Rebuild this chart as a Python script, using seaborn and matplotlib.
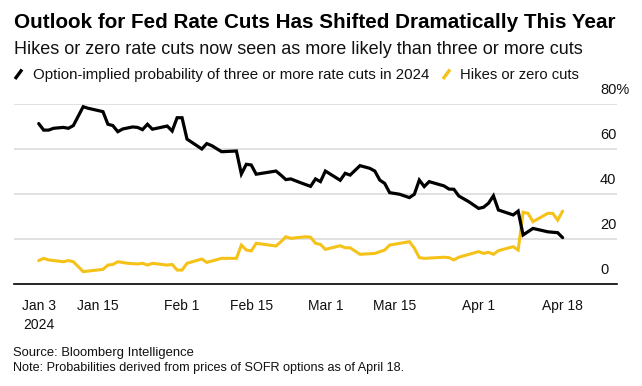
import matplotlib
matplotlib.use("Agg")
import matplotlib.pyplot as plt
import matplotlib.transforms as mtransforms
from matplotlib.lines import Line2D
import pandas as pd
import seaborn as sns

# ---------------- data ----------------
three_cut_dates = [
    "2024-01-03", "2024-01-04", "2024-01-05", "2024-01-06", "2024-01-08", "2024-01-09",
    "2024-01-10", "2024-01-12", "2024-01-13", "2024-01-16", "2024-01-17", "2024-01-18",
    "2024-01-19", "2024-01-20", "2024-01-22", "2024-01-23", "2024-01-24", "2024-01-25",
    "2024-01-26", "2024-01-29", "2024-01-30", "2024-01-31", "2024-02-01", "2024-02-02",
    "2024-02-05", "2024-02-06", "2024-02-07", "2024-02-09", "2024-02-12", "2024-02-13",
    "2024-02-14", "2024-02-15", "2024-02-16", "2024-02-20", "2024-02-21", "2024-02-22",
    "2024-02-23", "2024-02-25", "2024-02-27", "2024-02-28", "2024-02-29", "2024-03-01",
    "2024-03-04", "2024-03-05", "2024-03-06", "2024-03-08", "2024-03-10", "2024-03-11",
    "2024-03-12", "2024-03-13", "2024-03-14", "2024-03-16", "2024-03-18", "2024-03-19",
    "2024-03-20", "2024-03-21", "2024-03-22", "2024-03-25", "2024-03-26", "2024-03-27",
    "2024-03-28", "2024-03-30", "2024-04-01", "2024-04-02", "2024-04-03", "2024-04-04",
    "2024-04-05", "2024-04-08", "2024-04-09", "2024-04-10", "2024-04-12", "2024-04-15",
    "2024-04-17", "2024-04-18",
]
three_cut_values = [
    71.3, 68.4, 68.4, 69.2, 69.6, 69.2,
    70.4, 78.8, 78.1, 76.6, 71.0, 70.4,
    67.7, 68.9, 69.8, 69.6, 68.6, 71.0,
    68.8, 70.2, 68.0, 73.9, 73.9, 64.4,
    60.0, 62.4, 61.5, 58.8, 59.1, 48.9,
    53.2, 52.9, 48.8, 50.2, 48.4, 46.4,
    46.7, 45.0, 43.4, 46.7, 45.5, 50.2,
    46.1, 49.2, 48.4, 52.6, 51.4, 50.2,
    46.2, 44.7, 40.6, 39.9, 38.4, 39.9,
    46.2, 43.3, 45.5, 43.6, 42.2, 42.1,
    39.1, 36.6, 33.6, 34.1, 35.9, 39.2,
    32.9, 30.7, 32.4, 21.8, 24.7, 23.2,
    22.8, 20.6,
]

hike_dates = [
    "2024-01-03", "2024-01-04", "2024-01-05", "2024-01-08", "2024-01-09", "2024-01-10",
    "2024-01-12", "2024-01-16", "2024-01-17", "2024-01-18", "2024-01-19", "2024-01-21",
    "2024-01-23", "2024-01-24", "2024-01-25", "2024-01-26", "2024-01-29", "2024-01-30",
    "2024-01-31", "2024-02-01", "2024-02-02", "2024-02-05", "2024-02-06", "2024-02-09",
    "2024-02-12", "2024-02-13", "2024-02-14", "2024-02-15", "2024-02-16", "2024-02-20",
    "2024-02-21", "2024-02-22", "2024-02-23", "2024-02-26", "2024-02-27", "2024-02-28",
    "2024-02-29", "2024-03-01", "2024-03-04", "2024-03-05", "2024-03-06", "2024-03-08",
    "2024-03-11", "2024-03-13", "2024-03-14", "2024-03-18", "2024-03-19", "2024-03-20",
    "2024-03-21", "2024-03-25", "2024-03-26", "2024-03-27", "2024-03-28", "2024-04-01",
    "2024-04-02", "2024-04-03", "2024-04-04", "2024-04-05", "2024-04-08", "2024-04-09",
    "2024-04-10", "2024-04-11", "2024-04-12", "2024-04-15", "2024-04-16", "2024-04-17",
    "2024-04-18",
]
hike_values = [
    10.4, 11.4, 10.7, 9.9, 10.4, 9.9,
    5.5, 6.5, 8.4, 8.7, 9.9, 9.2,
    8.9, 9.2, 8.4, 9.2, 8.4, 8.7,
    6.2, 6.2, 9.2, 11.1, 9.6, 11.4,
    11.4, 17.3, 15.1, 14.7, 18.1, 16.9,
    18.8, 21.0, 20.3, 21.0, 20.8, 18.1,
    17.6, 15.4, 17.0, 16.1, 16.1, 13.2,
    13.6, 15.1, 17.3, 18.8, 15.9, 11.7,
    11.4, 11.9, 11.7, 10.7, 11.9, 14.4,
    13.6, 14.1, 13.2, 14.8, 16.6, 15.1,
    31.9, 31.4, 27.7, 31.4, 31.4, 28.4,
    32.4,
]

series_labels = ["Option-implied probability of three or more rate cuts in 2024",
                 "Hikes or zero cuts"]
tick_dates = ["2024-01-03", "2024-01-15", "2024-02-01", "2024-02-15",
              "2024-03-01", "2024-03-15", "2024-04-01", "2024-04-18"]
tick_labels = ["Jan 3\n2024", "Jan 15", "Feb 1", "Feb 15", "Mar 1", "Mar 15", "Apr 1", "Apr 18"]
y_ticks = [0, 20, 40, 60, 80]
y_tick_labels = ["0", "20", "40", "60", "80%"]

title = "Outlook for Fed Rate Cuts Has Shifted Dramatically This Year"
subtitle = "Hikes or zero rate cuts now seen as more likely than three or more cuts"
source = "Source: Bloomberg Intelligence"
note = "Note: Probabilities derived from prices of SOFR options as of April 18."

# ---------------- style ----------------
sns.set_theme(style="white")
plt.rcParams["font.family"] = ["Liberation Sans", "DejaVu Sans"]

BLACK = "#000000"
YELLOW = "#f5c219"
GRID = "#dedede"

W, H = 642, 386
fig = plt.figure(figsize=(W / 100, H / 100), dpi=100)
fig.patch.set_facecolor("white")

def fx(px):
    return px / W

def fy(py):
    return 1 - py / H

ax_left, ax_right, ax_top, ax_bot = 14, 617, 104, 284
ax = fig.add_axes([fx(ax_left), fy(ax_bot), fx(ax_right - ax_left), (ax_bot - ax_top) / H])

df1 = pd.DataFrame({"date": pd.to_datetime(three_cut_dates), "value": three_cut_values})
df2 = pd.DataFrame({"date": pd.to_datetime(hike_dates), "value": hike_values})

sns.lineplot(data=df2, x="date", y="value", ax=ax, color=YELLOW, lw=2.2,
             solid_joinstyle="miter", clip_on=False, zorder=3)
sns.lineplot(data=df1, x="date", y="value", ax=ax, color=BLACK, lw=2.3,
             solid_joinstyle="miter", clip_on=False, zorder=4)

ax.set_xlim(pd.Timestamp("2023-12-29"), pd.Timestamp("2024-04-29"))
ax.set_ylim(0, 80)
ax.set_xlabel("")
ax.set_ylabel("")

for v in y_ticks[1:]:
    ax.axhline(v, color=GRID, lw=1.3, zorder=1)

for s in ["top", "right", "left"]:
    ax.spines[s].set_visible(False)
ax.spines["bottom"].set_color(BLACK)
ax.spines["bottom"].set_linewidth(1.2)
ax.spines["bottom"].set_zorder(5)

ax.set_xticks(pd.to_datetime(tick_dates))
ax.set_xticklabels(tick_labels, fontsize=10, color="#111111", linespacing=1.45)
ax.tick_params(axis="x", direction="out", length=5, width=1, color=BLACK, pad=6)
ax.set_yticks([])

# y labels: left-aligned just above each gridline near the right edge
trans = mtransforms.blended_transform_factory(ax.transAxes, ax.transData)
for v, lab in zip(y_ticks, y_tick_labels):
    t = mtransforms.offset_copy(trans, fig=fig, x=0, y=14, units="dots")
    ax.text((600 - ax_left) / (ax_right - ax_left), v, lab, transform=t,
            ha="left", va="center", fontsize=10.5, color="#111111")

# ---------------- header texts ----------------
t_title = fig.text(fx(14), fy(28.5), title, fontsize=14, fontweight="bold",
                   color=BLACK, ha="left", va="baseline")
t_sub = fig.text(fx(14), fy(53.5), subtitle, fontsize=11, color="#111111",
                 ha="left", va="baseline")
t_leg1 = fig.text(fx(33), fy(79), series_labels[0], fontsize=10, color="#111111",
                  ha="left", va="baseline")
t_leg2 = fig.text(fx(460), fy(79), series_labels[1], fontsize=10, color="#111111",
                  ha="left", va="baseline")
t_src = fig.text(fx(13), fy(356), source, fontsize=8.5, color="#111111",
                 ha="left", va="baseline")
t_note = fig.text(fx(13), fy(371), note, fontsize=8.5, color="#111111",
                  ha="left", va="baseline")

fig.canvas.draw()
r = fig.canvas.get_renderer()
for t, target in [(t_title, 603), (t_sub, 568), (t_leg1, 396), (t_leg2, 118),
                  (t_src, 180), (t_note, 390)]:
    w = t.get_window_extent(r).width
    t.set_fontsize(t.get_fontsize() * target / w)

# legend slash icons
fig.add_artist(Line2D([fx(15), fx(22)], [fy(79), fy(69.5)], color=BLACK, lw=2.4,
                      solid_capstyle="butt"))
fig.add_artist(Line2D([fx(443), fx(450)], [fy(79), fy(69.5)], color=YELLOW, lw=2.4,
                      solid_capstyle="butt"))

fig.savefig("out.png", dpi=100, facecolor="white")
